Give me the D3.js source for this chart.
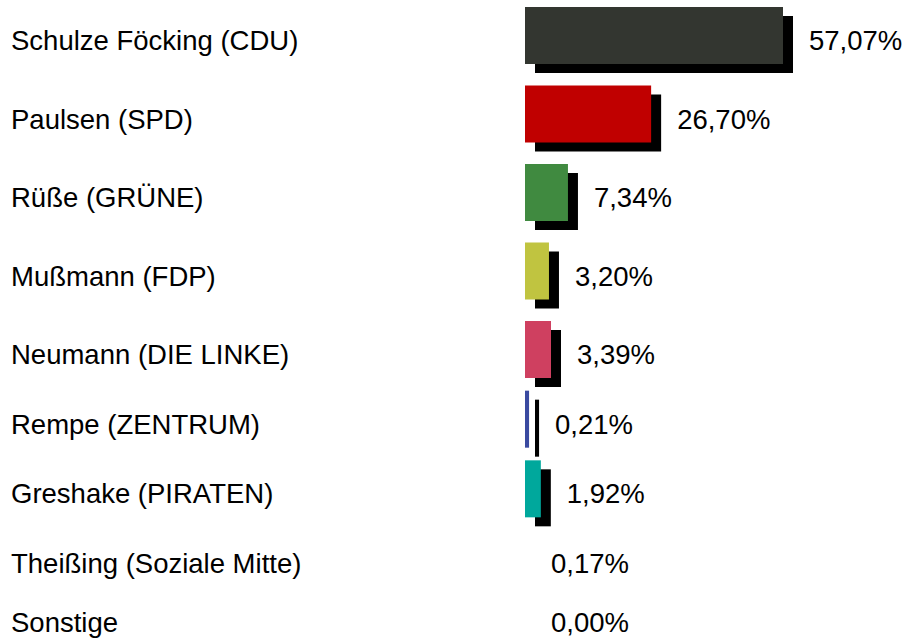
<!DOCTYPE html>
<html>
<head>
<meta charset="utf-8">
<script src="https://cdn.jsdelivr.net/npm/d3@7"></script>
<style>
  html, body { margin: 0; padding: 0; background: #fff; }
  svg { display: block; }
</style>
</head>
<body>
<svg id="chart" width="904" height="640"></svg>
<script>
// ---- data ----
const candidates = [
  "Schulze Föcking (CDU)",
  "Paulsen (SPD)",
  "Rüße (GRÜNE)",
  "Mußmann (FDP)",
  "Neumann (DIE LINKE)",
  "Rempe (ZENTRUM)",
  "Greshake (PIRATEN)",
  "Theißing (Soziale Mitte)",
  "Sonstige"
];
// printed percentages
const shares = [57.07, 26.70, 7.34, 3.20, 3.39, 0.21, 1.92, 0.17, 0.00];
// drawn bar lengths as they appear in the picture (percent units)
const barShares = [57.07, 27.9, 9.5, 5.3, 5.75, 0.9, 3.5, 0, 0];
const partyColors = ["#333630", "#c00000", "#408a40", "#c0c440", "#cf4060", "#3a4aa0", "#00a89c", "#999999", "#999999"];

// ---- layout ----
const svg = d3.select("#chart");
const fontFamily = "'Liberation Sans', Arial, Helvetica, sans-serif";
const fontSize = 27.5;
const labelX = 11;
const barX0 = 525;
const shadowDX = 10, shadowDY = 9;
const barH = 57;
const barAboveBaseline = 43;

const x = d3.scaleLinear().domain([0, 57.07]).range([0, 258]);
const rowBaseline = d3.scaleLinear().domain([0, 4, 7, 8]).range([50, 364, 573, 632]);

const de = d3.formatLocale({decimal: ",", thousands: ".", grouping: [3], currency: ["", " €"]});
const fmt = de.format(".2f");

const rows = candidates.map((name, i) => ({
  name, share: shares[i], bar: barShares[i], color: partyColors[i], i
}));

const g = svg.selectAll("g.row").data(rows).join("g").attr("class", "row");

// shadows
g.filter(d => x(d.bar) > 0).append("rect")
  .attr("x", barX0 + shadowDX)
  .attr("y", d => rowBaseline(d.i) - barAboveBaseline + shadowDY)
  .attr("width", d => x(d.bar))
  .attr("height", barH)
  .attr("fill", "#000");

// bars
g.filter(d => x(d.bar) > 0).append("rect")
  .attr("x", barX0)
  .attr("y", d => rowBaseline(d.i) - barAboveBaseline)
  .attr("width", d => x(d.bar))
  .attr("height", barH)
  .attr("fill", d => d.color);

// candidate labels
g.append("text")
  .attr("x", labelX)
  .attr("y", d => rowBaseline(d.i))
  .attr("font-family", fontFamily)
  .attr("font-size", fontSize)
  .attr("fill", "#000")
  .text(d => d.name);

// value labels
g.append("text")
  .attr("x", d => barX0 + shadowDX + x(d.bar) + 16)
  .attr("y", d => rowBaseline(d.i))
  .attr("font-family", fontFamily)
  .attr("font-size", fontSize)
  .attr("fill", "#000")
  .text(d => fmt(d.share) + "%");
</script>
</body>
</html>
